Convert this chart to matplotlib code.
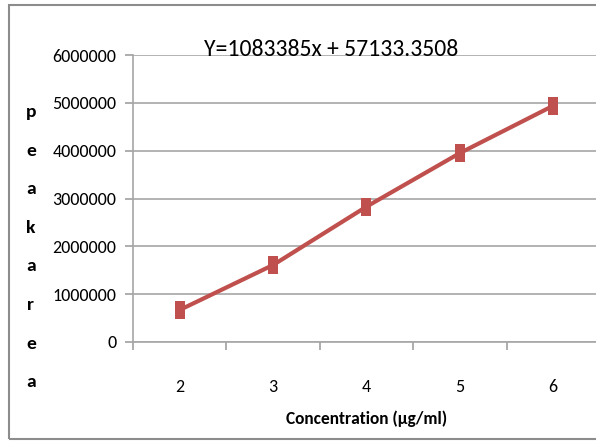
import matplotlib.pyplot as plt
from matplotlib.patches import Rectangle

# data
concentration = [2, 3, 4, 5, 6]
peak_area = [670000, 1610000, 2830000, 3950000, 4940000]
y_ticks = [0, 1000000, 2000000, 3000000, 4000000, 5000000, 6000000]
equation = 'Y=1083385x + 57133.3508'
x_title = 'Concentration (µg/ml)'
y_title = 'peakarea'

plt.rcParams['font.family'] = ['Carlito', 'Archivo Narrow', 'DejaVu Sans']

W, H = 596, 442
fig = plt.figure(figsize=(W / 100, H / 100), dpi=100)

# outer chart border
fig.patches.append(Rectangle((9 / W, 1 - 439 / H), 600 / W, 434 / H,
                             transform=fig.transFigure, fill=False,
                             edgecolor='#8c8c8c', linewidth=1.5))

# tall, narrow square marker like the (stretched) original
tall_box = [(-0.31, -0.5), (0.31, -0.5), (0.31, 0.5), (-0.31, 0.5), (-0.31, -0.5)]

ax = fig.add_axes([133 / W, 1 - 342 / H, 467 / W, 287 / H])
ax.plot(concentration, peak_area, color='#C0504D', linewidth=3,
        marker=tall_box, markersize=12.5, markeredgewidth=0, zorder=3)

ax.set_xlim(1.5, 6.5)
ax.set_ylim(0, 6000000)
ax.set_yticks(y_ticks)
ax.set_yticklabels([str(v) for v in y_ticks], fontsize=13)
ax.set_xticks(concentration)
ax.set_xticklabels([str(v) for v in concentration], fontsize=13)
ax.set_xticks([1.5 + k for k in range(6)], minor=True)
ax.tick_params(axis='x', which='major', length=0, pad=27)
ax.tick_params(axis='x', which='minor', length=6, color='#a0a0a0', width=1.2)
ax.tick_params(axis='y', length=6, color='#a0a0a0', width=1.2, pad=6)

ax.grid(axis='y', color='#a6a6a6', linewidth=1.2)
ax.set_axisbelow(True)
for side in ['top', 'right']:
    ax.spines[side].set_visible(False)
for side in ['left', 'bottom']:
    ax.spines[side].set_color('#a6a6a6')
    ax.spines[side].set_linewidth(1.2)

ax.set_xlabel(x_title, fontsize=12.5, fontweight='bold', labelpad=11)

# equation across the top
fig.text(331 / W, 1 - 49 / H, equation, fontsize=17, ha='center', va='center')

# y title drawn one letter under another
for i, ch in enumerate(y_title):
    fig.text(31 / W, 1 - (112 + 38.6 * i) / H, ch, fontsize=14,
             fontweight='bold', ha='center', va='center')

fig.savefig('out.png', dpi=100)
